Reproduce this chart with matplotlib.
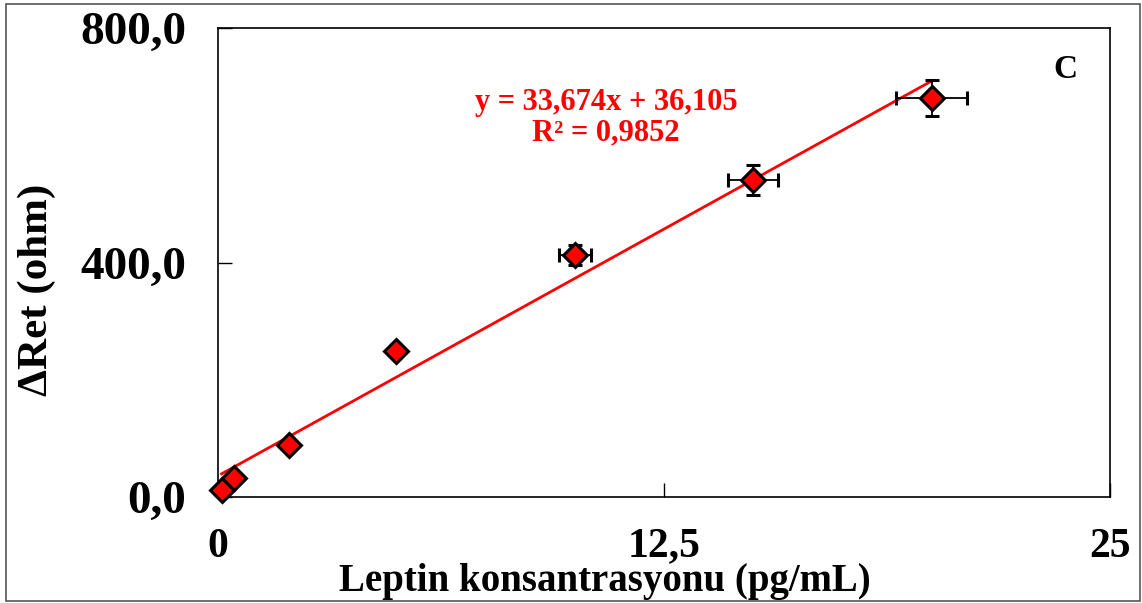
import matplotlib
matplotlib.use("Agg")
import matplotlib.pyplot as plt
from matplotlib.patches import Rectangle
import numpy as np

conc = [0.1, 0.45, 2.0, 5.0, 10.0, 15.0, 20.0]
dret = [12, 32, 89, 249, 413, 541, 681]
xerr = [0.0, 0.0, 0.0, 0.0, 0.45, 0.7, 1.0]
yerr = [0, 0, 0, 0, 17, 26, 31]
slope, intercept = 33.674, 36.105
xticks = [0, 12.5, 25]
xticklabels = ["0", "12,5", "25"]
yticks = [0, 400, 800]
yticklabels = ["0,0", "400,0", "800,0"]

plt.rcParams['font.family'] = ['Liberation Serif', 'DejaVu Serif']
fig = plt.figure(figsize=(11.42, 6.03), dpi=100)
fig.patches.append(Rectangle((6/1142, 2/603), 1 - 8/1142, 1 - 6/603, transform=fig.transFigure,
                             fill=False, edgecolor='#555555', linewidth=1.2))
L, R, T, B = 218, 1110, 28, 497
ax = fig.add_axes([L/1142, 1 - B/603, (R-L)/1142, (B-T)/603])
ax.set_xlim(0, 25)
ax.set_ylim(0, 800)

xf = np.array([conc[0], conc[-1]])
ax.plot(xf, slope * xf + intercept, color='#ff0000', linewidth=2, zorder=2)
eb = ax.errorbar(conc, dret, xerr=xerr, yerr=yerr, fmt='D', markersize=12,
                 markerfacecolor='#ff0000', markeredgecolor='black', markeredgewidth=2.2,
                 ecolor='black', elinewidth=1.3, capsize=5, capthick=1.3, zorder=3)
for artist in eb.get_children():
    artist.set_clip_on(False)

ax.set_xticks(xticks)
ax.set_xticklabels(xticklabels)
ax.set_yticks(yticks)
ax.set_yticklabels(yticklabels)
ax.tick_params(direction='in', length=10, width=1)
ax.tick_params(axis='y', labelsize=34, pad=23)
ax.tick_params(axis='x', labelsize=30, pad=22)
for lab in ax.get_xticklabels() + ax.get_yticklabels():
    lab.set_fontweight('bold')
for s in ax.spines.values():
    s.set_linewidth(1.2)

ax.set_xlabel("Leptin konsantrasyonu (pg/mL)", fontsize=28, fontweight='bold')
ax.xaxis.set_label_coords((605 - L) / (R - L), (B - 563) / (B - T))
ax.set_ylabel("ΔRet (ohm)", fontsize=31, fontweight='bold')
ax.yaxis.set_label_coords((56 - L) / (R - L), (B - 290) / (B - T))

ax.text(10.87, 698, "y = 33,674x + 36,105\nR² = 0,9852", color='#ff0000', fontsize=22,
        fontweight='bold', ha='center', va='top', linespacing=1.08)
ax.text(23.74, 730, "C", fontsize=24, fontweight='bold', ha='center', va='center')

fig.savefig("out.png", dpi=100)
